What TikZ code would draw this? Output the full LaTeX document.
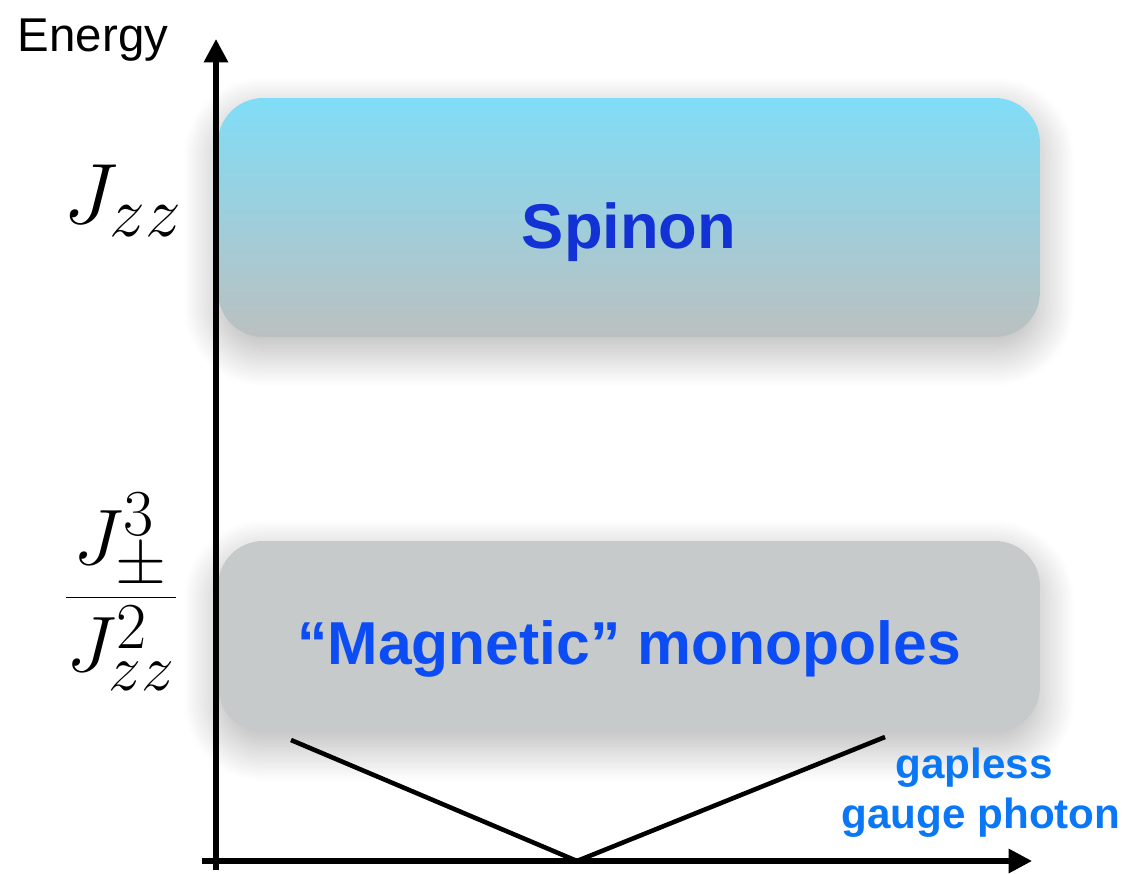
\documentclass[tikz,border=0pt]{standalone}
\usepackage{fontspec,graphicx}
\setmainfont{Liberation Sans}
\usetikzlibrary{arrows.meta,shadows.blur}
\definecolor{skyblue}{HTML}{80DDF7}
\definecolor{ashgray}{HTML}{BBC0C0}
\definecolor{monogray}{HTML}{C6CACA}
\definecolor{spinblue}{HTML}{1232D6}
\definecolor{monoblue}{HTML}{0B4CF4}
\definecolor{photblue}{HTML}{0A78F5}
\tikzset{band/.style={draw=none,rounded corners=0.9cm,minimum width=16.44cm,inner sep=0pt,text depth=0pt,font=\bfseries,blur shadow={shadow xshift=0pt,shadow yshift=-8pt,shadow blur radius=20pt,shadow blur steps=30,shadow opacity=30}}, axis/.style={-{Triangle[length=0.47cm,width=0.47cm]},line width=2.9pt}, disp/.style={line width=2.6pt}, lvl/.style={inner sep=0pt}}

\begin{document}
\begin{tikzpicture}[x=0.02cm,y=-0.02cm]
\useasboundingbox (0,0) rectangle (1131,874);
\node[band,minimum height=4.78cm,text height=34.8pt,top color=skyblue,bottom color=ashgray,text=spinblue,font=\bfseries\fontsize{36}{40}\selectfont] (sp) at (629,217.5) {Spinon};
\node[band,minimum height=3.82cm,text height=31.3pt,fill=monogray,text=monoblue,font=\bfseries\fontsize{34.5}{40}\selectfont] (mp) at (629,636.5) {“Magnetic” monopoles};
\node[align=center,text=photblue,font=\bfseries\fontsize{24}{28.5}\selectfont] (ph) at (981,793) {gapless\hspace*{8pt}\\gauge photon};
\node[lvl,font=\fontsize{27}{30}\selectfont,anchor=base] (en) at (93,52) {Energy};
\node[lvl] (jzz) at (123,201) {\scalebox{1.96}{\Huge$J_{zz}$}};
\node[lvl] (jpm) at (121,592) {\scalebox{1.8}{\Huge$\displaystyle\frac{J_{\pm}^{3}}{J_{zz}^{2}}$}};
% axes
\coordinate (yb) at (216,870);
\coordinate (yt) at (216,39);
\coordinate (xl) at (202,861);
\coordinate (xr) at (1032,861);
\draw[axis] (yb) -- (yt);
\draw[axis] (xl) -- (xr);
% photon dispersion
\coordinate (vl) at (291,740);
\coordinate (v0) at (577,861);
\coordinate (vr) at (885,737);
\draw[disp] (vl) -- (v0) -- (vr);
\end{tikzpicture}
\end{document}
